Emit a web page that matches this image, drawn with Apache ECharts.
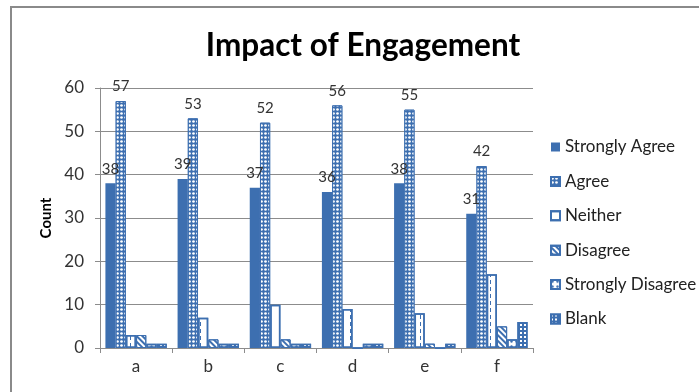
<!DOCTYPE html>
<html>
<head>
<meta charset="utf-8">
<script src="https://cdn.jsdelivr.net/npm/echarts@6/dist/echarts.min.js"></script>
<style>
  html, body { margin: 0; padding: 0; background: #fff; }
  #chart { width: 699px; height: 392px; }
</style>
</head>
<body>
<div id="chart"></div>
<script>
// Survey responses per question
const categories = ['a', 'b', 'c', 'd', 'e', 'f'];
const stronglyAgree    = [38, 39, 37, 36, 38, 31];
const agree            = [57, 53, 52, 56, 55, 42];
const neither          = [3, 7, 10, 9, 8, 17];
const disagree         = [3, 2, 2, 0, 1, 5];
const stronglyDisagree = [1, 1, 1, 1, 0, 2];
const blank            = [1, 1, 1, 1, 1, 6];
const yTicks = { min: 0, max: 60, step: 10 };

const BLUE = '#3d6fb0';
const FONT = 'Lato, "Open Sans", sans-serif';

const chart = echarts.init(document.getElementById('chart'), null, { renderer: 'canvas' });

function barSeries(name, data, itemStyle, withLabel) {
  return {
    name: name,
    type: 'bar',
    data: data,
    barGap: '0%',
    barCategoryGap: '15%',
    itemStyle: itemStyle,
    label: {
      show: withLabel,
      position: 'top',
      distance: 7,
      fontFamily: FONT,
      fontSize: 15,
      color: '#333'
    },
    emphasis: { disabled: true }
  };
}

chart.setOption({
  animation: false,
  backgroundColor: '#fff',
  title: {
    text: 'Impact of Engagement',
    left: 358,
    textAlign: 'center',
    top: 25,
    textStyle: { fontFamily: FONT, fontWeight: 'bold', fontSize: 31.5, color: '#000' }
  },
  legend: {
    orient: 'vertical',
    left: 550,
    top: 137,
    padding: 0,
    itemWidth: 9,
    itemHeight: 9,
    itemGap: 14.4,
    icon: 'rect',
    textStyle: { fontFamily: FONT, fontSize: 17, color: '#222', lineHeight: 20 }
  },
  grid: { left: 100, right: 166, top: 88, bottom: 44, containLabel: false },
  xAxis: {
    type: 'category',
    data: categories,
    axisLine: { lineStyle: { color: '#8c8c8c', width: 1 } },
    axisTick: { show: true, length: 5, lineStyle: { color: '#8c8c8c' } },
    axisLabel: { fontFamily: FONT, fontSize: 17, color: '#333', margin: 10 }
  },
  yAxis: {
    type: 'value',
    min: yTicks.min,
    max: yTicks.max,
    interval: yTicks.step,
    name: 'Count',
    nameLocation: 'middle',
    nameGap: 44,
    nameRotate: 90,
    nameTextStyle: { fontFamily: FONT, fontWeight: 'bold', fontSize: 15, color: '#000' },
    axisLine: { show: true, lineStyle: { color: '#8c8c8c', width: 1 } },
    axisTick: { show: true, length: 5, lineStyle: { color: '#8c8c8c' } },
    splitLine: { lineStyle: { color: '#8c8c8c', width: 1 } },
    axisLabel: { fontFamily: FONT, fontSize: 17, color: '#333', margin: 16 }
  },
  graphic: [{
    type: 'polyline',
    shape: { points: [[11, 400], [11, 7], [710, 7]] },
    style: { fill: null, stroke: '#8a8a8a', lineWidth: 2 },
    silent: true
  }],
  series: [
    barSeries('Strongly Agree', stronglyAgree, { color: BLUE }, true),
    barSeries('Agree', agree, {
      color: BLUE, borderColor: BLUE, borderWidth: 1,
      decal: { symbol: 'circle', symbolSize: 0.9, color: '#ffffff', dashArrayX: [3, 1], dashArrayY: [3, 1] }
    }, true),
    barSeries('Neither', neither, {
      color: '#ffffff', borderColor: BLUE, borderWidth: 1.5,
      decal: { symbol: 'rect', symbolSize: 1, color: BLUE, dashArrayX: [1, 9], dashArrayY: [4, 3] }
    }, false),
    barSeries('Disagree', disagree, {
      color: '#ffffff', borderColor: BLUE, borderWidth: 1,
      decal: { symbol: 'rect', symbolSize: 1, color: BLUE, dashArrayX: [1, 0], dashArrayY: [2, 2], rotation: Math.PI / 4 }
    }, false),
    barSeries('Strongly Disagree', stronglyDisagree, {
      color: '#ffffff', borderColor: BLUE, borderWidth: 1.5,
      decal: { symbol: 'circle', symbolSize: 0.8, color: BLUE, dashArrayX: [3, 2], dashArrayY: [3, 2] }
    }, false),
    barSeries('Blank', blank, {
      color: BLUE, borderColor: BLUE, borderWidth: 1.5,
      decal: { symbol: 'rect', symbolSize: 1, color: '#ffffff', dashArrayX: [2, 2], dashArrayY: [2, 2] }
    }, false)
  ]
});
</script>
</body>
</html>
